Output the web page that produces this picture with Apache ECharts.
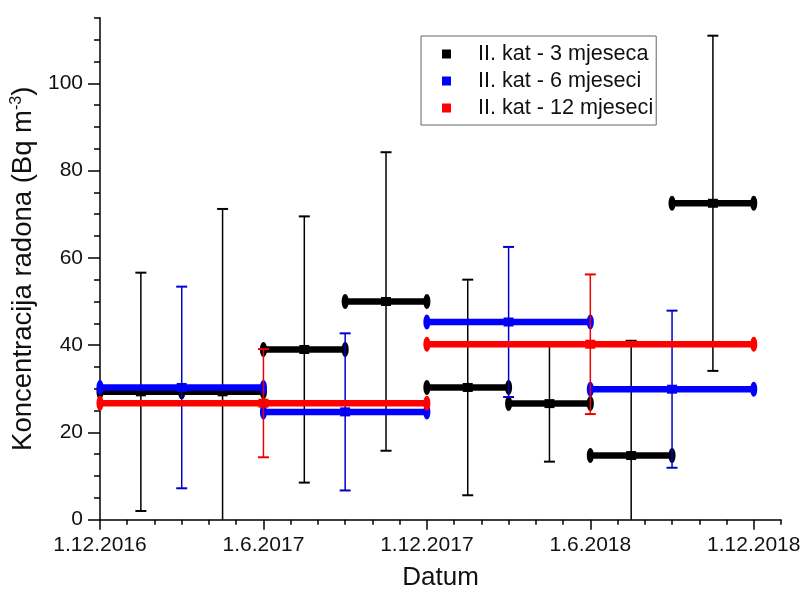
<!DOCTYPE html>
<html>
<head>
<meta charset="utf-8">
<script src="https://cdn.jsdelivr.net/npm/echarts@6/dist/echarts.min.js"></script>
<style>html,body{margin:0;padding:0;background:#fff}#c{width:806px;height:599px}</style>
</head>
<body>
<div id="c"></div>
<script>
// x values are months counted from 1.12.2016
const xTickLabels = ['1.12.2016', '1.6.2017', '1.12.2017', '1.6.2018', '1.12.2018'];
const yTickLabels = [0, 20, 40, 60, 80, 100];

const blackStart = [0, 3, 6, 9, 12, 15, 18, 21];
const blackEnd   = [3, 6, 9, 12, 15, 18, 21, 24];
const blackValue = [29.3, 29.3, 39.0, 50.0, 30.3, 26.6, 14.7, 72.5];
const blackErr   = [27.3, 41.9, 30.5, 34.2, 24.7, 13.3, 26.3, 38.4];

const blueStart = [0, 6, 12, 18];
const blueEnd   = [6, 12, 18, 24];
const blueValue = [30.3, 24.7, 45.3, 29.9];
const blueErr   = [23.1, 18.0, 17.2, 18.0];

const redStart = [0, 12];
const redEnd   = [12, 24];
const redValue = [26.7, 40.2];
const redErr   = [12.4, 16.0];

const seriesNames = ['II. kat - 3 mjeseca', 'II. kat - 6 mjeseci', 'II. kat - 12 mjeseci'];

function rows(s, e, v, er) { return s.map((x, i) => [x, e[i], v[i], er[i]]); }

const FONT = "'Liberation Sans', Arial, sans-serif";

function makeRender(color, errColor) {
  return function (params, api) {
    const x0 = api.value(0), x1 = api.value(1), v = api.value(2), e = api.value(3);
    const xm = (x0 + x1) / 2;
    const pA = api.coord([x0, v]);
    const pB = api.coord([x1, v]);
    const pM = api.coord([xm, v]);
    const pLo = api.coord([xm, v - e]);
    const pHi = api.coord([xm, v + e]);
    const cs = params.coordSys;
    const yBottom = cs.y + cs.height;
    const lowClipped = pLo[1] > yBottom;
    const loY = Math.min(pLo[1], yBottom);
    const children = [
      { type: 'line', shape: { x1: pA[0], y1: pA[1], x2: pB[0], y2: pB[1] }, style: { stroke: color, lineWidth: 6.5 } },
      { type: 'ellipse', shape: { cx: pA[0], cy: pA[1], rx: 3.5, ry: 7.5 }, style: { fill: color } },
      { type: 'ellipse', shape: { cx: pB[0], cy: pB[1], rx: 3.5, ry: 7.5 }, style: { fill: color } },
      { type: 'rect', shape: { x: pM[0] - 5, y: pM[1] - 4.5, width: 10, height: 9 }, style: { fill: color } },
      { type: 'line', shape: { x1: pM[0], y1: loY, x2: pM[0], y2: pHi[1] }, style: { stroke: errColor, lineWidth: 1.5 } },
      { type: 'line', shape: { x1: pM[0] - 5.5, y1: pHi[1], x2: pM[0] + 5.5, y2: pHi[1] }, style: { stroke: errColor, lineWidth: 2 } }
    ];
    if (!lowClipped) {
      children.push({ type: 'line', shape: { x1: pM[0] - 5.5, y1: pLo[1], x2: pM[0] + 5.5, y2: pLo[1] }, style: { stroke: errColor, lineWidth: 2 } });
    }
    return { type: 'group', children: children };
  };
}

function minorList(max, step, majorStep) {
  const out = [];
  for (let v = step; v <= max + 1e-9; v += step) { if (Math.abs(v / majorStep - Math.round(v / majorStep)) > 1e-9) out.push(v); }
  return out;
}

const chart = echarts.init(document.getElementById('c'), null, { renderer: 'canvas' });
chart.setOption({
  animation: false,
  backgroundColor: '#fff',
  textStyle: { fontFamily: FONT },
  grid: { left: 100, right: 25, top: 17.8, bottom: 79.3, containLabel: false },
  legend: {
    orient: 'vertical', left: 421, top: 36,
    data: seriesNames.map(n => ({ name: n, icon: 'rect' })),
    itemWidth: 9, itemHeight: 9, itemGap: 5,
    borderColor: '#666', borderWidth: 1, padding: [7, 3, 6, 21],
    textStyle: { fontSize: 21.6, color: '#111', fontFamily: FONT, padding: [0, 0, 0, 22] }
  },
  xAxis: [
    {
      type: 'value', min: 0, max: 25, position: 'bottom', offset: 0,
      name: 'Datum', nameLocation: 'middle', nameGap: 45,
      nameTextStyle: { fontSize: 26, color: '#111', fontFamily: FONT },
      axisLine: { lineStyle: { color: '#000', width: 1.5 } },
      axisTick: { customValues: [0, 6, 12, 18, 24], length: 10, lineStyle: { color: '#000', width: 1.5 } },
      axisLabel: { customValues: [0, 6, 12, 18, 24], formatter: v => xTickLabels[Math.round(v / 6)], fontSize: 21, color: '#111', margin: 15, fontFamily: FONT },
      splitLine: { show: false }
    },
    {
      type: 'value', min: 0, max: 25, position: 'bottom', offset: 0,
      axisLine: { show: false },
      axisTick: { customValues: minorList(25, 1, 6), length: 5, lineStyle: { color: '#000', width: 1.5 } },
      axisLabel: { show: false }, splitLine: { show: false }
    }
  ],
  yAxis: [
    {
      type: 'value', min: 0, max: 115, position: 'left', offset: 0,
      name: '{a|Koncentracija radona (Bq m}{s|-3}{a|)}', nameLocation: 'middle', nameGap: 60, nameRotate: 90,
      nameTextStyle: {
        color: '#111', fontFamily: FONT,
        rich: {
          a: { fontSize: 27.5, color: '#111', fontFamily: FONT },
          s: { fontSize: 16, color: '#111', fontFamily: FONT, verticalAlign: 'top', padding: [0, 0, 8, 0] }
        }
      },
      axisLine: { lineStyle: { color: '#000', width: 1.5 } },
      axisTick: { customValues: yTickLabels, length: 12, lineStyle: { color: '#000', width: 1.5 } },
      axisLabel: { customValues: yTickLabels, fontSize: 21, color: '#111', margin: 17, fontFamily: FONT },
      splitLine: { show: false }
    },
    {
      type: 'value', min: 0, max: 115, position: 'left', offset: 0,
      axisLine: { show: false },
      axisTick: { customValues: minorList(115, 5, 20), length: 6, lineStyle: { color: '#000', width: 1.5 } },
      axisLabel: { show: false }, splitLine: { show: false }
    }
  ],
  series: [
    { name: seriesNames[0], type: 'custom', xAxisIndex: 0, yAxisIndex: 0, itemStyle: { color: '#000000' },
      renderItem: makeRender('#000000', '#000000'), encode: { x: [0, 1], y: 2 }, data: rows(blackStart, blackEnd, blackValue, blackErr), z: 2 },
    { name: seriesNames[1], type: 'custom', xAxisIndex: 0, yAxisIndex: 0, itemStyle: { color: '#0000ff' },
      renderItem: makeRender('#0000ff', '#0000cc'), encode: { x: [0, 1], y: 2 }, data: rows(blueStart, blueEnd, blueValue, blueErr), z: 3 },
    { name: seriesNames[2], type: 'custom', xAxisIndex: 0, yAxisIndex: 0, itemStyle: { color: '#ff0000' },
      renderItem: makeRender('#ff0000', '#ee0000'), encode: { x: [0, 1], y: 2 }, data: rows(redStart, redEnd, redValue, redErr), z: 4 }
  ]
});
</script>
</body>
</html>
